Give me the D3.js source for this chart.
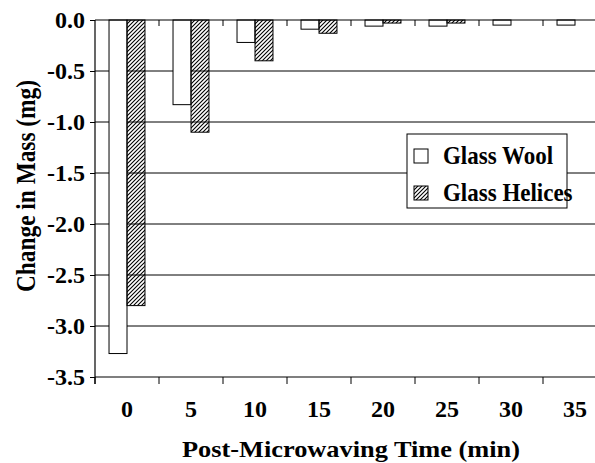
<!DOCTYPE html>
<head>
    <script src="https://d3js.org/d3.v7.min.js"></script>
    <style>
        body { margin: 0; background: #fff; }
    </style>
</head>
<body>
    <script>
        // data
        const times = ["0", "5", "10", "15", "20", "25", "30", "35"];
        const series = ["Glass Wool", "Glass Helices"];
        const glassWool = [-3.27, -0.83, -0.22, -0.09, -0.06, -0.06, -0.05, -0.05];
        const glassHelices = [-2.80, -1.10, -0.40, -0.13, -0.03, -0.03, 0, 0];
        const yTicks = [0, -0.5, -1.0, -1.5, -2.0, -2.5, -3.0, -3.5];
        const yTickLabels = ["0.0", "-0.5", "-1.0", "-1.5", "-2.0", "-2.5", "-3.0", "-3.5"];

        const rows = times.map((t, i) => ({ time: t, values: [glassWool[i], glassHelices[i]] }));
        const serif = "'Liberation Serif', 'Times New Roman', Times, serif";

        // svg and plot area
        const svg = d3.select("body")
            .append("svg")
            .attr("width", 595)
            .attr("height", 463);
        const margin = { top: 20, left: 95, bottom: 86 };
        const height = 463 - margin.top - margin.bottom;
        const bandStep = 64;

        // hatch pattern for glass helices
        svg.append("defs")
            .append("pattern")
            .attr("id", "hatch")
            .attr("patternUnits", "userSpaceOnUse")
            .attr("width", 4)
            .attr("height", 4)
            .append("path")
            .attr("d", "M-1,1 l2,-2 M0,4 l4,-4 M3,5 l2,-2")
            .attr("stroke", "#000")
            .attr("stroke-width", 1.1);

        const chart = svg.append("g")
            .attr("transform", `translate(${margin.left},${margin.top})`);

        // scales
        const xScale = d3.scaleBand()
            .domain(times)
            .range([0, bandStep * times.length])
            .padding(0);
        const xSeries = d3.scaleBand()
            .domain(series)
            .range([0, bandStep])
            .paddingInner(0)
            .paddingOuter(0.78);
        const yScale = d3.scaleLinear()
            .domain([-3.5, 0])
            .range([height, 0]);

        // gridlines
        chart.append("g")
            .selectAll("line")
            .data(yTicks.slice(1, -1))
            .join("line")
            .attr("x1", 0)
            .attr("x2", 600)
            .attr("y1", d => yScale(d))
            .attr("y2", d => yScale(d))
            .attr("stroke", "#000")
            .attr("stroke-width", 1);

        // bars
        const fills = ["#fff", "url(#hatch)"];
        chart.append("g")
            .selectAll("g")
            .data(rows)
            .join("g")
            .attr("transform", d => `translate(${xScale(d.time)},0)`)
            .selectAll("rect")
            .data(d => d.values.map((v, j) => ({ key: series[j], value: v, j: j })))
            .join("rect")
            .filter(d => d.value !== 0)
            .attr("x", d => xSeries(d.key))
            .attr("y", yScale(0))
            .attr("width", xSeries.bandwidth())
            .attr("height", d => yScale(d.value) - yScale(0))
            .attr("fill", d => fills[d.j])
            .attr("stroke", "#000")
            .attr("stroke-width", 1);

        // category axis along zero, ticks pointing down
        chart.append("g")
            .attr("transform", `translate(0,${yScale(0)})`)
            .call(d3.axisBottom(xScale).tickSize(0).tickFormat(""))
            .call(g => g.select(".domain").attr("d", "M0,0H600").attr("stroke-width", 1.2))
            .call(g => g.selectAll(".bnd")
                .data(times.slice(1))
                .join("line")
                .attr("x1", d => xScale(d))
                .attr("x2", d => xScale(d))
                .attr("y1", 0)
                .attr("y2", 6)
                .attr("stroke", "#000"));

        // bottom axis with labels
        chart.append("g")
            .attr("transform", `translate(0,${height})`)
            .call(d3.axisBottom(xScale).tickSize(0).tickPadding(23))
            .call(g => g.select(".domain").attr("d", "M0,0H600").attr("stroke-width", 1.2))
            .call(g => g.selectAll(".bnd")
                .data(times)
                .join("line")
                .attr("x1", d => xScale(d))
                .attr("x2", d => xScale(d))
                .attr("y1", 0)
                .attr("y2", 7)
                .attr("stroke", "#000"));

        // y axis
        chart.append("g")
            .call(d3.axisLeft(yScale)
                .tickValues(yTicks)
                .tickSize(5)
                .tickPadding(5)
                .tickFormat((d, i) => yTickLabels[i]))
            .call(g => g.select(".domain").attr("d", `M0,0V${height + 7}`).attr("stroke-width", 1.2));

        chart.selectAll(".tick text")
            .style("font-family", serif)
            .style("font-weight", "bold")
            .style("font-size", "24px");

        // axis titles
        svg.append("text")
            .attr("x", 351)
            .attr("y", 457)
            .attr("text-anchor", "middle")
            .attr("textLength", 338)
            .attr("lengthAdjust", "spacingAndGlyphs")
            .style("font-family", serif)
            .style("font-weight", "bold")
            .style("font-size", "24px")
            .text("Post-Microwaving Time (min)");

        svg.append("text")
            .attr("transform", "translate(35,186) rotate(-90)")
            .attr("text-anchor", "middle")
            .attr("textLength", 212)
            .attr("lengthAdjust", "spacingAndGlyphs")
            .style("font-family", serif)
            .style("font-weight", "bold")
            .style("font-size", "28px")
            .text("Change in Mass (mg)");

        // legend
        const legend = svg.append("g")
            .attr("transform", "translate(407,134)");
        legend.append("rect")
            .attr("width", 160)
            .attr("height", 74)
            .attr("fill", "#fff")
            .attr("stroke", "#000")
            .attr("stroke-width", 1);
        const item = legend.selectAll(".item")
            .data(series)
            .join("g")
            .attr("transform", (d, i) => `translate(7,${15 + i * 37})`);
        item.append("rect")
            .attr("width", 14)
            .attr("height", 14)
            .attr("fill", (d, i) => fills[i])
            .attr("stroke", "#000");
        item.append("text")
            .attr("transform", "translate(29,15) scale(1,1.1)")
            .style("font-family", serif)
            .style("font-weight", "bold")
            .style("font-size", "23px")
            .text(d => d);
    </script>
</body>
